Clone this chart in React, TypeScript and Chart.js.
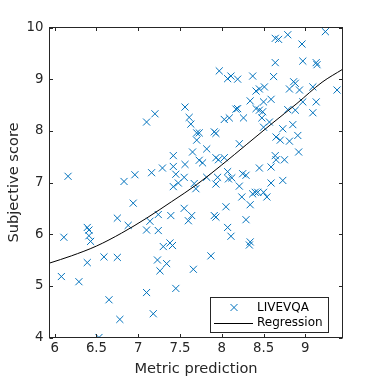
import React, { useEffect, useRef } from 'react';
import { Chart, registerables } from 'chart.js';

Chart.register(...registerables);

// ---- data ----
const metricPrediction = [
  6.16, 6.83, 6.96, 7.10, 7.20, 7.16, 7.29, 7.42, 7.42, 7.45, 7.42, 7.48, 7.55, 7.56, 7.56, 7.61, 7.63, 7.65, 7.67, 7.69, 7.70, 7.73, 7.70, 7.73, 7.77, 7.82, 7.82,
  7.91, 7.93, 7.93, 7.96, 8.03, 7.93, 7.95, 8.07, 8.08, 8.12, 8.21, 8.25, 8.29,
  8.64, 8.68, 8.79, 8.96, 9.24, 8.64, 8.97, 9.13, 9.14,
  7.97, 8.07, 8.11, 8.19, 8.37, 8.62,
  8.41, 8.45, 8.51, 8.81, 8.86, 8.88, 8.93, 9.09, 9.38,
  8.34, 8.41, 8.50, 8.59, 8.17, 8.19, 8.45, 8.49, 8.79, 8.88, 8.97, 9.13, 9.09,
  8.03, 8.09, 8.26, 8.48, 8.57, 8.50, 8.73, 8.85,
  8.65, 8.70, 8.81, 8.91, 8.21, 8.92, 8.64, 8.65, 8.75, 8.45, 8.59, 8.73, 8.59,
  6.94, 6.75, 6.88, 6.39, 6.41, 6.41, 6.43, 6.11, 6.39, 6.08, 6.29, 6.59, 6.75, 6.65, 6.78, 6.53,
  7.10, 7.18, 7.45, 7.10, 7.14, 7.24, 7.24, 7.39, 7.30, 7.38, 7.41, 7.23, 7.26, 7.34, 7.55, 7.64, 7.60, 7.66, 7.87,
  8.24, 8.34, 8.37, 8.40, 8.43, 8.50, 8.54, 8.05, 7.91, 7.93, 8.07, 8.11, 8.29, 8.34, 8.33,
];
const subjectiveScore = [
  7.12, 7.02, 7.15, 8.17, 8.33, 7.19, 7.28, 7.52, 7.31, 7.16, 6.92, 6.99, 7.10, 7.35, 8.46, 8.26, 8.13, 7.59, 6.98, 6.88, 7.96, 7.96, 7.82, 7.43, 7.38, 7.65, 7.10,
  7.98, 7.95, 7.48, 7.44, 7.48, 6.97, 7.10, 7.21, 7.07, 7.09, 6.93, 7.17, 7.14,
  9.79, 9.77, 9.86, 9.68, 9.92, 9.32, 9.35, 9.32, 9.28,
  9.16, 9.01, 9.06, 9.00, 9.06, 9.05,
  8.77, 8.81, 8.85, 8.81, 8.95, 8.92, 8.79, 8.85, 8.79,
  8.58, 8.43, 8.56, 8.61, 8.42, 8.43, 8.40, 8.37, 8.41, 8.40, 8.56, 8.56, 8.35,
  8.22, 8.25, 8.25, 8.25, 8.17, 8.07, 8.04, 8.12,
  7.88, 7.82, 7.80, 7.91, 7.75, 7.59, 7.52, 7.44, 7.44, 7.28, 7.30, 7.04, 6.99,
  6.60, 6.31, 6.17, 6.13, 6.08, 5.97, 5.86, 5.94, 5.45, 5.18, 5.08, 5.56, 5.55, 4.73, 4.35, 4.00,
  4.87, 4.46, 4.95, 6.08, 6.25, 6.38, 6.07, 6.36, 5.76, 5.83, 5.78, 5.50, 5.29, 5.43, 6.50, 6.36, 6.26, 5.32, 5.58,
  6.72, 6.57, 6.78, 6.81, 6.81, 6.81, 6.72, 6.53, 6.36, 6.33, 6.13, 5.96, 6.28, 5.85, 5.79,
];
const regressionX = [5.938, 6.2, 6.5, 6.8, 7.1, 7.4, 7.7, 8.0, 8.3, 8.6, 8.9, 9.2, 9.445];
const regressionY = [5.44, 5.58, 5.77, 6.02, 6.31, 6.63, 6.96, 7.34, 7.74, 8.14, 8.53, 8.94, 9.19];
const xTickValues = [6, 6.5, 7, 7.5, 8, 8.5, 9];
const yTickValues = [4, 5, 6, 7, 8, 9, 10];
const xRange = [5.938, 9.445];
const yRange = [4, 10];
const seriesLabels = ['LIVEVQA', 'Regression'];
const xTitle = 'Metric prediction';
const yTitle = 'Subjective score';

const AXIS_COLOR = '#262626';
const MARKER_COLOR = '#0072BD';
const FONT = "'DejaVu Sans', sans-serif";

const boxPlugin = {
  id: 'matlabBox',
  afterDatasetsDraw(chart: any) {
    const { ctx, chartArea: a, scales } = chart;
    ctx.save();
    ctx.strokeStyle = AXIS_COLOR;
    ctx.lineWidth = 1;
    ctx.strokeRect(a.left, a.top, a.right - a.left, a.bottom - a.top);
    const tl = 3.5;
    ctx.beginPath();
    for (const v of xTickValues) {
      const px = Math.round(scales.x.getPixelForValue(v)) + 0.5;
      ctx.moveTo(px, a.bottom);
      ctx.lineTo(px, a.bottom - tl);
      ctx.moveTo(px, a.top);
      ctx.lineTo(px, a.top + tl);
    }
    for (const v of yTickValues) {
      const py = Math.round(scales.y.getPixelForValue(v)) + 0.5;
      ctx.moveTo(a.left, py);
      ctx.lineTo(a.left + tl, py);
      ctx.moveTo(a.right, py);
      ctx.lineTo(a.right - tl, py);
    }
    ctx.stroke();

    // legend inside the axes, bottom-right
    const ds = chart.data.datasets;
    const bx = 210.5, by = 297.5, bw = 118, bh = 35;
    ctx.fillStyle = '#ffffff';
    ctx.fillRect(bx, by, bw, bh);
    ctx.strokeStyle = AXIS_COLOR;
    ctx.strokeRect(bx, by, bw, bh);
    const row1 = by + 10, row2 = by + 25;
    // marker
    ctx.strokeStyle = MARKER_COLOR;
    ctx.beginPath();
    const mx = 234, r = 3.5;
    ctx.moveTo(mx - r, row1 - r); ctx.lineTo(mx + r, row1 + r);
    ctx.moveTo(mx - r, row1 + r); ctx.lineTo(mx + r, row1 - r);
    ctx.stroke();
    // line
    ctx.strokeStyle = '#000000';
    ctx.beginPath();
    ctx.moveTo(214, Math.round(row2) + 0.5);
    ctx.lineTo(253, Math.round(row2) + 0.5);
    ctx.stroke();
    ctx.fillStyle = '#000000';
    ctx.font = `12px ${FONT}`;
    ctx.textBaseline = 'middle';
    ctx.textAlign = 'left';
    ctx.fillText(ds[0].label, 257, row1 + 0.5);
    ctx.fillText(ds[1].label, 257, row2 + 0.5);
    ctx.restore();
  },
};

export default function App() {
  const ref = useRef<HTMLCanvasElement | null>(null);
  useEffect(() => {
    if (!ref.current) return;
    const points = metricPrediction.map((x, i) => ({ x, y: subjectiveScore[i] }));
    const line = regressionX.map((x, i) => ({ x, y: regressionY[i] }));
    const chart = new Chart(ref.current, {
      type: 'scatter',
      data: {
        datasets: [
          {
            label: seriesLabels[0],
            data: points,
            pointStyle: 'crossRot',
            pointRadius: 5,
            pointBorderWidth: 1,
            borderColor: MARKER_COLOR,
            backgroundColor: MARKER_COLOR,
            showLine: false,
            order: 2,
          } as any,
          {
            label: seriesLabels[1],
            data: line,
            type: 'line',
            borderColor: '#000000',
            borderWidth: 1,
            pointRadius: 0,
            showLine: true,
            fill: false,
            cubicInterpolationMode: 'monotone',
            order: 1,
          } as any,
        ],
      },
      options: {
        animation: false,
        responsive: false,
        maintainAspectRatio: false,
        layout: { padding: { top: 27.5, right: 35.5, left: 0, bottom: 0 } },
        plugins: { legend: { display: false }, tooltip: { enabled: false } },
        scales: {
          x: {
            type: 'linear',
            min: xRange[0],
            max: xRange[1],
            grid: { display: false, drawTicks: false },
            border: { display: false },
            afterBuildTicks: (s: any) => { s.ticks = xTickValues.map((v) => ({ value: v })); },
            afterFit: (s: any) => { s.height = 40.5; },
            ticks: {
              color: AXIS_COLOR,
              font: { family: FONT, size: 13.3 },
              padding: 3,
              maxRotation: 0,
              autoSkip: false,
              callback: (v: any) => String(v),
            },
            title: {
              display: true,
              text: xTitle,
              color: AXIS_COLOR,
              font: { family: FONT, size: 14.6 },
              padding: { top: 0, bottom: 0 },
            },
          },
          y: {
            type: 'linear',
            min: yRange[0],
            max: yRange[1],
            grid: { display: false, drawTicks: false },
            border: { display: false },
            afterBuildTicks: (s: any) => { s.ticks = yTickValues.map((v) => ({ value: v })); },
            afterFit: (s: any) => { s.width = 49.5; },
            ticks: {
              color: AXIS_COLOR,
              font: { family: FONT, size: 13.3 },
              padding: 6,
              autoSkip: false,
              callback: (v: any) => String(v),
            },
            title: {
              display: true,
              text: yTitle,
              color: AXIS_COLOR,
              font: { family: FONT, size: 14.6 },
              padding: { top: 5.5, bottom: 0 },
            },
          },
        },
      },
      plugins: [boxPlugin],
    });
    return () => chart.destroy();
  }, []);
  return (
    <div style={{ position: 'fixed', left: 0, top: 0, width: 378, height: 378, background: '#fff' }}>
      <canvas ref={ref} width={378} height={378} style={{ width: 378, height: 378, display: 'block' }} />
    </div>
  );
}
